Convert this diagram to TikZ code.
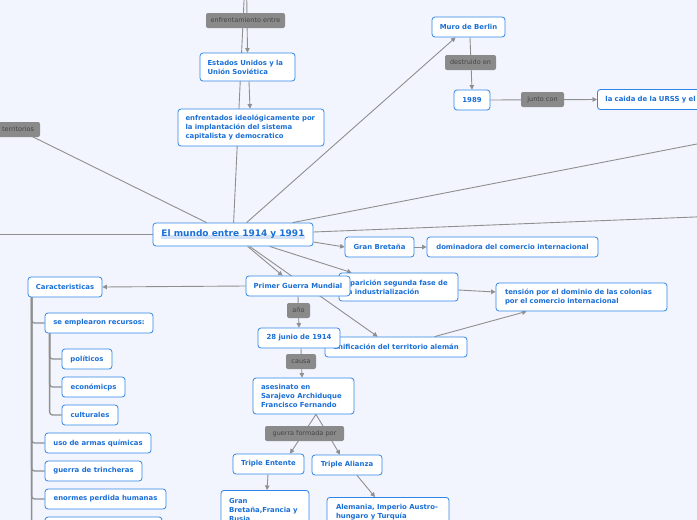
\documentclass[tikz,border=0pt]{standalone}
\usepackage{fontspec}
\setmainfont{DejaVu Sans}
\usetikzlibrary{arrows.meta,calc}
\definecolor{bgc}{HTML}{F2F5FD}
\definecolor{nodeb}{HTML}{2F86E8}
\definecolor{nodet}{HTML}{1A6FD6}
\definecolor{lblf}{HTML}{8A8A8A}
\definecolor{lblt}{HTML}{454545}
\definecolor{edgec}{HTML}{8F8F8F}
\definecolor{hl}{HTML}{D3E2F8}
\pgfdeclarelayer{bg}
\pgfdeclarelayer{edges}
\pgfsetlayers{bg,edges,main}
\newcommand{\hlunder}[1]{\setbox0\hbox{#1}\rlap{\color{hl}\rule[-1.8pt]{\wd0}{3.4pt}}\box0}
\begin{document}
\begin{tikzpicture}[x=1pt,y=-1pt,
 box/.style={draw=nodeb, fill=white, rounded corners=3pt, line width=0.8pt, text=nodet,
   font=\bfseries\fontsize{6.9}{9}\selectfont, inner sep=0pt, minimum height=20pt},
 mbox/.style={box, align=left},
 lbl/.style={fill=lblf, rounded corners=2pt, text=lblt, font=\fontsize{6.5}{7.5}\selectfont,
   inner sep=0pt, minimum height=15pt},
 con/.style={draw=edgec, line width=0.9pt},
 arr/.style={con, -{Triangle[width=4.5pt,length=4.5pt]}},
 tree/.style={draw=edgec, line width=1.3pt, rounded corners=3pt}]
\useasboundingbox (0,0) rectangle (697,520);
\clip (0,0) rectangle (697,520);
\begin{pgfonlayer}{bg}
\fill[bgc] (0,0) rectangle (697,520);
\end{pgfonlayer}

% nodes
\node[box, minimum width=160pt, minimum height=23pt, font=\bfseries\fontsize{9}{11}\selectfont] (main) at (233,234.5) {\hlunder{El mundo entre 1914 y 1991}};
\node[mbox, minimum width=95pt, text width=80pt, minimum height=28pt] (eeuu) at (247.5,67) {Estados Unidos y la\\Unión Soviética};
\node[mbox, minimum width=146pt, text width=131pt, minimum height=37pt] (enfr) at (251,127.5) {enfrentados ideológicamente por\\la implantación del sistema\\capitalista y democratico};
\node[box, minimum width=73pt] (muro) at (468.5,27) {Muro de Berlin};
\node[box, minimum width=36pt] (n1989) at (472,100) {1989};
\node[mbox, anchor=west, minimum width=166pt, text width=150pt] (caida) at (597,99.5) {la caida de la URSS y el};
\node[box, minimum width=69pt] (gb) at (379.5,247) {Gran Bretaña};
\node[box, minimum width=171pt] (dom) at (512.5,247) {dominadora del comercio internacional};
\node[mbox, minimum width=119pt, text width=106pt, minimum height=28pt] (apar) at (398.5,287) {aparición segunda fase de\\la industrialización};
\node[mbox, minimum width=171pt, text width=153pt, minimum height=28pt] (tension) at (581.5,297) {tensión por el dominio de las colonias\\por el comercio internacional};
\node[box, minimum width=142pt] (unif) at (396,347) {unificación del territorio alemán};
\node[box, minimum width=104pt] (pgm) at (298,286) {Primer Guerra Mundial};
\node[box, minimum width=82pt] (junio) at (299,338) {28 junio de 1914};
\node[mbox, minimum width=101pt, text width=85pt, minimum height=36pt] (asesinato) at (303.5,396) {asesinato en\\Sarajevo Archiduque\\Francisco Fernando};
\node[box, minimum width=71pt] (te) at (268.5,464) {Triple Entente};
\node[box, minimum width=70pt] (ta) at (347,465) {Triple Alianza};
\node[mbox, anchor=north, minimum width=88pt, text width=72pt, minimum height=40pt] (gbfr) at (265,490) {Gran\\Bretaña,Francia y\\Rusia};
\node[mbox, anchor=north, minimum width=122pt, text width=104pt, minimum height=30pt] (alem) at (388,497) {Alemania, Imperio Austro-\\hungaro y Turquía};
\node[box, minimum width=74pt] (carac) at (65,287) {Caracteristicas};
\node[box, minimum width=108pt] (recursos) at (99,323) {se emplearon recursos:};
\node[box, minimum width=50pt] (politicos) at (87,359) {políticos};
\node[box, minimum width=63pt] (econ) at (93.5,387) {económicps};
\node[box, minimum width=56pt] (cult) at (90,415) {culturales};
\node[box, minimum width=106pt] (armas) at (98,443) {uso de armas químicas};
\node[box, minimum width=97pt] (trinch) at (93.5,471) {guerra de trincheras};
\node[box, minimum width=121pt] (perdida) at (105.5,499) {enormes perdida humanas};
\node[box, minimum width=117pt] (last) at (103.5,527) {};

% labels
\node[lbl, minimum width=79pt] (lenf) at (245.5,20.5) {enfrentamiento entre};
\node[lbl, minimum width=51pt] (ldes) at (470.5,62.5) {destruido en};
\node[lbl, minimum width=43pt] (ljun) at (542.5,99.5) {junto con};
\node[lbl, minimum width=44pt] (terr) at (18,129.5) {territorios};
\node[lbl, minimum width=23pt] (lano) at (298.5,310.5) {año};
\node[lbl, minimum width=30pt] (lcau) at (301,361.5) {causa};
\node[lbl, minimum width=79pt] (lgue) at (304.5,433.5) {guerra formada por};

\coordinate (top1) at (245,-20);
\coordinate (top2) at (246.5,-20);
\coordinate (L1) at (-20,234.5);
\coordinate (R1) at (720,139.5);
\coordinate (R2) at (720,216);

\begin{pgfonlayer}{edges}
\clip (0,0) rectangle (697,520);
\draw[con] ($(main.north west)+(81,0)$) -- (top1);
\draw[arr] (top2) -- (eeuu.north);
\draw[arr] ($(eeuu.south)+(1.5,0)$) -- ($(enfr.north)+(-1,0)$);
\draw[con] ($(main.north west)+(54,0)$) -- (terr.center);
\draw[con] (main.west) -- (L1);
\draw[arr] ($(main.north west)+(94,0)$) -- ($(muro.south west)+(24,0)$);
\draw[con] ($(main.north west)+(140,0)$) -- (R1);
\draw[con] ($(main.east)+(0,-2.5)$) -- (R2);
\draw[arr] ($(main.east)+(0,7.5)$) -- (gb.west);
\draw[arr] (gb.east) -- (dom.west);
\draw[arr] ($(main.south west)+(117,0)$) -- ($(apar.north west)+(13,0)$);
\draw[arr] ($(main.south west)+(95,0)$) -- ($(pgm.north west)+(37,0)$);
\draw[arr] ($(main.south west)+(97,0)$) -- ($(unif.north west)+(53,0)$);
\draw[arr] ($(apar.east)+(0,3)$) -- ($(tension.west)+(0,-5)$);
\draw[arr] ($(unif.north west)+(110,0)$) -- ($(tension.south west)+(31,0)$);
\draw[arr] (n1989.east) -- (caida.west);
\draw[arr] ($(muro.south)+(1.5,0)$) -- (n1989.north);
\draw[arr] (pgm.west) -- (carac.east);
\draw[arr] (pgm.south) -- (junio.north);
\draw[arr] ($(junio.south)+(2,0)$) -- ($(asesinato.north)+(-1.5,0)$);
\draw[arr] ($(asesinato.south)+(12.5,0)$) -- ($(te.north)+(21.5,0)$);
\draw[arr] ($(asesinato.south)+(12.5,0)$) -- ($(ta.north)+(-7,0)$);
\draw[arr] ($(te.south)+(-0.5,0)$) -- ($(gbfr.north)+(2,0)$);
\draw[arr] ($(ta.south)+(10,0)$) -- ($(alem.north)+(-13,0)$);
\draw[tree] ($(carac.south west)+(4,0)$) |- (recursos.west);
\draw[tree] ($(carac.south west)+(4,0)$) |- (armas.west);
\draw[tree] ($(carac.south west)+(4,0)$) |- (trinch.west);
\draw[tree] ($(carac.south west)+(4,0)$) |- (perdida.west);
\draw[tree] ($(carac.south west)+(4,0)$) |- (last.west);
\draw[tree] ($(recursos.south west)+(5,0)$) |- (politicos.west);
\draw[tree] ($(recursos.south west)+(5,0)$) |- (econ.west);
\draw[tree] ($(recursos.south west)+(5,0)$) |- (cult.west);
\end{pgfonlayer}
\end{tikzpicture}
\end{document}
